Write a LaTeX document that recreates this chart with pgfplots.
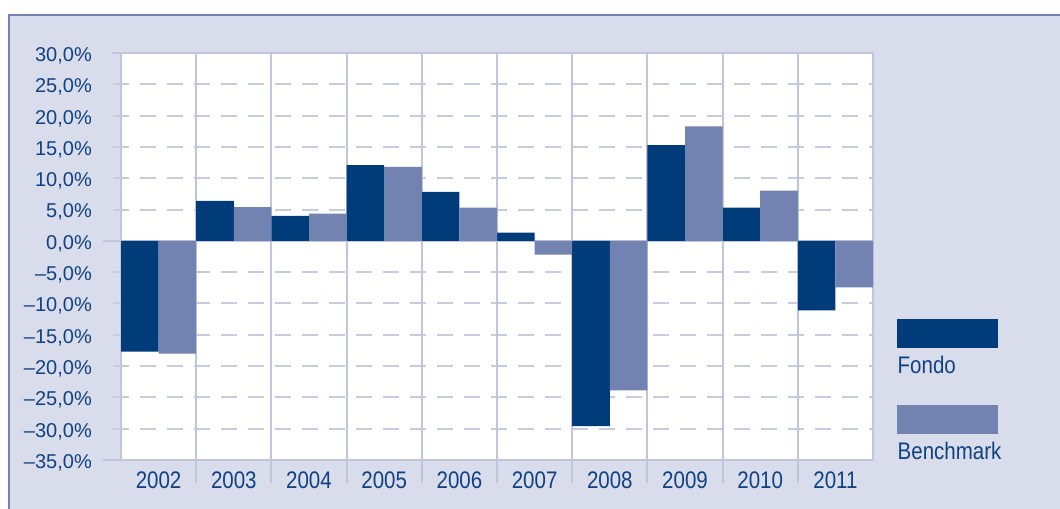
\documentclass[border=0pt]{standalone}
\usepackage{pgfplots}
\pgfplotsset{compat=1.18}
\usepackage{graphicx}
\usepackage{fontspec}
\setmainfont{Liberation Sans}
\definecolor{bg}{HTML}{D9DCEA}
\definecolor{framec}{HTML}{7482B2}
\definecolor{gridc}{HTML}{BFC5DC}
\definecolor{dashc}{HTML}{C6CBE0}
\definecolor{fondo}{HTML}{003B7A}
\definecolor{bench}{HTML}{7283B2}
\definecolor{txt}{HTML}{0F4282}
\newcommand{\xl}[1]{\scalebox{1}[1.17]{#1}}
\begin{document}
\begin{tikzpicture}[x=1bp,y=1bp]
\path[use as bounding box] (0,0) rectangle (1060,509);
\fill[bg] (8.5,-5) rectangle (1065,494);
\draw[framec, line width=2bp] (8.5,-5) -- (8.5,494) -- (1065,494);
\begin{axis}[
  at={(121bp,49bp)}, anchor=south west,
  width=752bp, height=407bp, scale only axis,
  xmin=-0.5, xmax=9.5, ymin=-35, ymax=30,
  clip=false,
  axis background/.style={fill=white},
  axis line style={gridc, line width=1.8bp},
  xtick={0,...,9},
  xticklabels={\xl{2002},\xl{2003},\xl{2004},\xl{2005},\xl{2006},\xl{2007},\xl{2008},\xl{2009},\xl{2010},\xl{2011}},
  ytick={-35,-30,...,30},
  yticklabels={{–35,0\%},{–30,0\%},{–25,0\%},{–20,0\%},{–15,0\%},{–10,0\%},{–5,0\%},{0,0\%},{5,0\%},{10,0\%},{15,0\%},{20,0\%},{25,0\%},{30,0\%}},
  major tick length=0pt,
  tick style={draw=none},
  yticklabel style={anchor=base east, inner sep=0pt, xshift=-29bp, yshift=-8.4bp, text=txt, font=\fontsize{20bp}{24bp}\selectfont},
  xticklabel style={anchor=base, inner sep=0pt, yshift=-28.3bp, text=txt, font=\fontsize{20.5bp}{24bp}\selectfont},
]
% horizontal grid
\pgfplotsinvokeforeach{-30,-25,-20,-15,-10,-5,5,10,15,20,25}{
  \draw[dashc, line width=2bp, dash pattern=on 16bp off 11bp] ([xshift=-8bp]axis cs:-0.5,#1) -- (axis cs:9.5,#1);
}
\draw[gridc, line width=1.8bp] ([xshift=-18bp]axis cs:-0.5,0) -- (axis cs:9.5,0);
\draw[gridc, line width=1.8bp] ([xshift=-9bp]axis cs:-0.5,30) -- (axis cs:-0.5,30);
\draw[gridc, line width=1.8bp] ([xshift=-18bp]axis cs:-0.5,-35) -- (axis cs:-0.5,-35);
% vertical separators
\pgfplotsinvokeforeach{0.5,1.5,2.5,3.5,4.5,5.5,6.5,7.5,8.5}{
  \draw[gridc, line width=2bp] (axis cs:#1,30) -- ([yshift=-23bp]axis cs:#1,-35);
}
\addplot[ybar, bar width=0.5, bar shift=0pt, fill=fondo, draw=none] coordinates {
  (-0.25,-17.7) (0.75,6.4) (1.75,4.0) (2.75,12.1) (3.75,7.8)
  (4.75,1.3) (5.75,-29.6) (6.75,15.3) (7.75,5.3) (8.75,-11.1)
};
\addplot[ybar, bar width=0.5, bar shift=0pt, fill=bench, draw=none] coordinates {
  (0.25,-18.0) (1.25,5.4) (2.25,4.35) (3.25,11.8) (4.25,5.3)
  (5.25,-2.2) (6.25,-23.9) (7.25,18.3) (8.25,8.0) (9.25,-7.45)
};
\end{axis}
% legend
\fill[fondo] (897,161) rectangle (998,190);
\node[anchor=base west, inner sep=0pt, text=txt, font=\fontsize{20.5bp}{24bp}\selectfont] at (897.5,135) {\xl{Fondo}};
\fill[bench] (897,75) rectangle (998,104);
\node[anchor=base west, inner sep=0pt, text=txt, font=\fontsize{20.5bp}{24bp}\selectfont] at (897.5,49) {\xl{Benchmark}};
\end{tikzpicture}
\end{document}
